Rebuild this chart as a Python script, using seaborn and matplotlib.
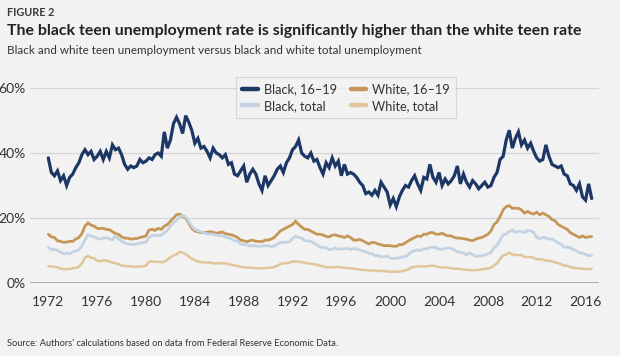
import numpy as np
import pandas as pd
import seaborn as sns
import matplotlib.pyplot as plt
from matplotlib.ticker import FuncFormatter

# quarterly readings, 1972 Q1 .. 2016 Q3 (percent)
first_year = 1972
black_teen = [
    38.5, 34.0, 33.0, 34.5,  31.5, 33.0, 30.0, 32.5,  33.5, 35.5, 37.0, 39.5,
    41.0, 39.5, 40.5, 38.0,  39.0, 40.5, 38.0, 40.5,  38.5, 42.5, 41.0, 41.5,
    39.5, 36.5, 35.0, 36.0,  35.5, 36.0, 38.0, 37.0,  37.5, 38.5, 38.0, 39.5,
    40.0, 39.0, 46.5, 41.5,  44.0, 49.0, 51.0, 49.0,  46.0, 51.5, 49.5, 47.0,
    43.0, 44.5, 41.5, 42.0,  40.5, 38.5, 41.5, 40.0,  39.5, 38.5, 39.5, 36.5,
    37.0, 33.5, 33.0, 34.5,  36.0, 31.0, 33.5, 35.0,  33.5, 30.5, 28.5, 33.0,
    30.0, 31.5, 33.0, 35.0,  36.0, 34.0, 37.0, 38.5,  41.0, 42.0, 44.0, 40.0,
    39.0, 38.5, 40.0, 37.5,  38.0, 35.5, 33.5, 37.0,  35.5, 38.5, 36.0, 37.5,
    33.0, 36.5, 33.5, 34.0,  33.5, 32.5, 31.0, 30.0,  27.5, 28.0, 27.0, 28.5,
    27.0, 31.0, 29.5, 28.0,  24.0, 26.0, 23.5, 26.5,  28.5, 30.0, 29.5, 31.5,
    33.0, 30.5, 28.5, 32.5,  32.0, 36.5, 32.5, 31.0,  34.0, 30.0, 32.0, 30.5,
    31.5, 33.0, 36.0, 30.5,  33.5, 31.0, 29.5, 31.5,  30.5, 29.0, 30.0, 31.0,
    29.5, 30.0, 32.5, 34.0,  38.0, 39.0, 44.0, 47.0,  41.5, 44.5, 46.5, 42.5,
    44.0, 41.5, 43.0, 40.5,  38.5, 37.5, 38.0, 42.5,  39.0, 36.5, 36.0, 35.5,
    36.0, 33.5, 33.0, 30.5,  30.0, 28.5, 30.5, 26.5,  25.5, 30.5, 26.0,
]
white_teen = [
    15.0, 14.2, 14.0, 13.0,  12.8, 12.5, 12.6, 12.8,  12.8, 13.5, 14.0, 15.2,
    17.5, 18.5, 17.8, 17.5,  16.8, 16.8, 16.8, 16.5,  16.4, 15.8, 15.2, 15.0,
    14.2, 13.8, 13.8, 13.5,  13.6, 13.7, 14.0, 14.2,  14.5, 16.3, 16.5, 16.2,
    16.8, 16.5, 17.5, 18.0,  19.0, 20.0, 21.0, 21.2,  20.5, 20.0, 18.5, 16.8,
    16.0, 15.8, 15.5, 15.5,  15.6, 15.8, 15.6, 15.3,  15.5, 15.7, 15.2, 15.0,
    14.8, 14.5, 14.0, 13.2,  13.0, 12.7, 13.0, 13.2,  12.8, 12.8, 12.7, 13.2,
    13.2, 13.5, 14.0, 15.0,  16.0, 16.5, 17.0, 17.5,  18.0, 19.0, 18.0, 17.2,
    16.5, 16.5, 16.0, 15.5,  15.0, 15.0, 14.8, 14.3,  14.2, 14.7, 14.8, 14.5,
    14.3, 14.0, 14.5, 14.0,  13.2, 13.2, 13.4, 13.0,  12.5, 12.0, 12.5, 12.4,
    12.0, 11.8, 11.5, 11.5,  11.5, 11.3, 11.3, 11.8,  11.8, 12.4, 13.0, 13.5,
    14.0, 14.5, 14.3, 15.0,  15.0, 15.5, 15.5, 15.0,  15.0, 15.3, 14.8, 14.5,
    14.5, 14.0, 13.8, 13.8,  13.6, 13.5, 13.2, 13.0,  13.5, 13.8, 14.0, 14.5,
    15.0, 16.0, 18.0, 18.8,  20.5, 22.5, 23.5, 23.8,  23.0, 23.0, 23.0, 22.5,
    21.5, 22.0, 21.5, 21.2,  21.8, 21.0, 21.5, 21.0,  20.5, 19.5, 19.2, 18.0,
    17.5, 17.0, 16.5, 15.5,  15.0, 14.5, 14.0, 14.5,  14.0, 14.2, 14.3,
]
black_total = [
    11.0, 10.2, 10.4, 10.0,   9.5,  9.0,  9.2,  9.0,   9.6,  9.8, 10.2, 11.4,
    13.3, 14.8, 14.5, 14.2,  13.7, 13.5, 13.8, 14.0,  13.6, 13.3, 14.5, 13.6,
    12.9, 12.3, 12.0, 11.9,  11.8, 12.0, 12.3, 12.4,  12.6, 14.0, 14.6, 14.6,
    14.7, 14.6, 15.5, 16.2,  17.5, 18.6, 19.3, 20.3,  20.8, 20.4, 19.0, 17.5,
    16.5, 16.1, 15.8, 15.4,  15.1, 15.1, 15.0, 14.8,  14.5, 14.6, 14.1, 13.9,
    13.5, 13.0, 12.9, 12.0,  11.8, 11.8, 11.4, 11.5,  11.4, 11.3, 11.4, 11.5,
    11.4, 11.2, 11.4, 12.0,  12.4, 12.6, 12.5, 12.7,  13.7, 14.4, 14.0, 13.8,
    13.0, 13.0, 12.8, 12.3,  11.7, 11.0, 11.0, 10.8,  10.3, 10.4, 10.8, 10.4,
    10.5, 10.5, 10.7, 10.3,  10.6, 10.5, 10.2,  9.8,   9.7,  9.1,  9.1,  8.4,
     8.5,  8.0,  8.1,  8.3,   7.7,  7.5,  7.7,  7.7,   8.1,  8.1,  8.8,  9.6,
    10.0, 10.2, 10.0, 10.6,  10.5, 11.0, 11.0, 10.9,  10.4, 10.4, 10.6, 10.8,
    10.6, 10.2,  9.6,  9.5,   9.2,  8.7,  9.2,  8.8,   8.1,  8.3,  8.4,  8.6,
     9.0,  9.3, 10.9, 11.6,  13.2, 14.8, 15.1, 15.8,  16.3, 15.6, 15.9, 15.8,
    15.5, 16.2, 16.0, 15.6,  14.0, 13.6, 14.0, 13.9,  13.5, 13.6, 13.0, 12.3,
    12.0, 11.0, 11.1, 10.8,  10.3,  9.9,  9.3,  9.2,   8.8,  8.4,  8.5,
]
white_total = [
     5.1,  5.1,  5.0,  4.8,   4.4,  4.3,  4.3,  4.3,   4.6,  4.6,  5.0,  6.0,
     7.8,  8.3,  7.8,  7.6,   6.8,  6.7,  7.0,  6.9,   6.6,  6.3,  6.1,  5.8,
     5.4,  5.2,  5.2,  5.1,   5.0,  5.0,  5.1,  5.1,   5.4,  6.5,  6.7,  6.5,
     6.5,  6.4,  6.5,  7.2,   7.9,  8.5,  8.8,  9.6,   9.3,  8.9,  8.2,  7.5,
     7.0,  6.6,  6.4,  6.3,   6.3,  6.3,  6.1,  6.0,   6.1,  6.1,  6.0,  5.9,
     5.6,  5.4,  5.2,  5.0,   4.8,  4.7,  4.7,  4.7,   4.5,  4.5,  4.5,  4.6,
     4.7,  4.7,  4.9,  5.3,   5.8,  6.1,  6.1,  6.3,   6.6,  6.6,  6.6,  6.4,
     6.2,  6.1,  5.9,  5.8,   5.6,  5.3,  5.2,  4.8,   4.8,  4.8,  4.9,  4.9,
     4.8,  4.7,  4.6,  4.5,   4.4,  4.3,  4.1,  4.0,   4.0,  3.8,  3.9,  3.8,
     3.7,  3.7,  3.7,  3.5,   3.5,  3.5,  3.5,  3.5,   3.7,  3.9,  4.2,  4.8,
     5.0,  5.1,  5.1,  5.1,   5.1,  5.3,  5.3,  5.1,   4.9,  4.8,  4.8,  4.7,
     4.5,  4.4,  4.4,  4.3,   4.1,  4.1,  4.0,  3.9,   4.0,  4.0,  4.2,  4.3,
     4.5,  4.7,  5.4,  6.0,   7.4,  8.5,  8.8,  9.3,   8.8,  8.6,  8.6,  8.6,
     8.0,  8.0,  8.0,  7.7,   7.3,  7.3,  7.2,  6.9,   6.9,  6.6,  6.4,  6.1,
     5.8,  5.3,  5.3,  4.9,   4.7,  4.6,  4.5,  4.4,   4.3,  4.3,  4.4,
]

year_ticks = list(range(1972, 2017, 4))
pct_ticks = [0, 20, 40, 60]
series_names = ["Black, 16\u201319", "Black, total", "White, 16\u201319", "White, total"]
colors = {
    "Black, 16\u201319": "#1c3765",
    "Black, total": "#c3d3e2",
    "White, 16\u201319": "#c69656",
    "White, total": "#e0c698",
}

n = len(black_teen)
t = first_year + np.arange(n) * 0.25
df = pd.concat([
    pd.DataFrame({"year": t, "rate": black_teen, "series": "Black, 16\u201319"}),
    pd.DataFrame({"year": t, "rate": black_total, "series": "Black, total"}),
    pd.DataFrame({"year": t, "rate": white_teen, "series": "White, 16\u201319"}),
    pd.DataFrame({"year": t, "rate": white_total, "series": "White, total"}),
])

bg = "#f2f2f2"
sns.set_theme(style="white")
plt.rcParams["font.family"] = ["Lato", "DejaVu Sans"]

fig = plt.figure(figsize=(6.2, 3.56), dpi=100, facecolor=bg)
ax = fig.add_axes([30 / 620, 1 - 283 / 356, 569 / 620, 195 / 356], facecolor=bg)

# draw order: light lines first, black teen on top
widths = {"White, total": 1.8, "White, 16\u201319": 2.0, "Black, total": 2.0, "Black, 16\u201319": 2.3}
for name in ["White, total", "White, 16\u201319", "Black, total", "Black, 16\u201319"]:
    sns.lineplot(data=df[df.series == name], x="year", y="rate", color=colors[name],
                 lw=widths[name], ax=ax, legend=False, solid_joinstyle="miter")

ax.set_xlim(1970.5, 2017.1)
ax.set_ylim(0, 60)
ax.set_xticks(year_ticks)
ax.set_yticks(pct_ticks)
ax.yaxis.set_major_formatter(FuncFormatter(lambda v, _: f"{v:.0f}%"))
ax.set_xlabel("")
ax.set_ylabel("")
ax.grid(axis="y", color="#d6d6d6", lw=0.9)
ax.grid(axis="x", visible=False)
for s in ax.spines.values():
    s.set_visible(False)
ax.axhline(0, color="#a8a8a8", lw=1.3, zorder=1)
ax.tick_params(axis="both", length=0, labelsize=10, colors="#333333")
ax.tick_params(axis="x", pad=9)
ax.tick_params(axis="y", pad=3)

handles = [plt.Line2D([], [], color=colors[k], lw=3.2, solid_capstyle="round") for k in series_names]
leg = fig.legend(handles, series_names, ncol=2, loc="upper center",
                 bbox_to_anchor=(346 / 620, 1 - 77 / 356), borderaxespad=0, fontsize=9.2,
                 frameon=True, facecolor=bg, edgecolor="#cfcfcf", fancybox=False,
                 handlelength=1.2, handletextpad=0.45, columnspacing=1.1,
                 labelspacing=0.35, borderpad=0.5)
leg.get_frame().set_linewidth(0.8)
for txt in leg.get_texts():
    txt.set_color("#333333")

fig.text(7 / 620, 1 - 13 / 356, "FIGURE 2", fontsize=7.8, fontweight="bold",
         color="#3a3a3a", va="center")
fig.text(7 / 620, 1 - 31 / 356,
         "The black teen unemployment rate is significantly higher than the white teen rate",
         fontsize=11.4, fontweight="bold", color="#222222", va="center")
fig.text(7 / 620, 1 - 50 / 356,
         "Black and white teen unemployment versus black and white total unemployment",
         fontsize=8.4, color="#333333", va="center")
fig.text(7 / 620, 1 - 344 / 356,
         "Source: Authors' calculations based on data from Federal Reserve Economic Data.",
         fontsize=6.7, color="#333333", va="center")

fig.savefig("out.png", dpi=100, facecolor=bg)
